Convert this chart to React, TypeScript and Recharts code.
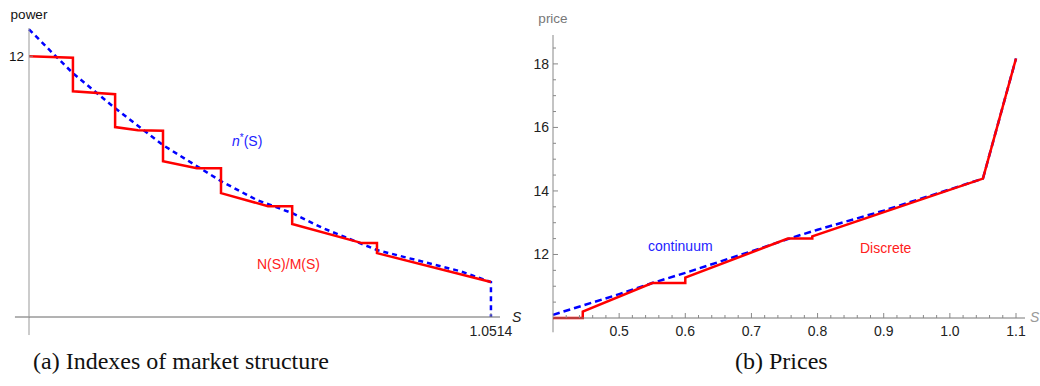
import { LineChart, Line, XAxis, YAxis, ReferenceLine } from 'recharts'

const sansFont = '"Liberation Sans", Arial, sans-serif'
const serifFont = '"Liberation Serif", "Times New Roman", serif'

// (a) indexes of market structure
const discreteS = [0, 0.1, 0.1, 0.196, 0.196, 0.248, 0.305, 0.305, 0.382, 0.437, 0.437, 0.544, 0.599, 0.599, 0.758, 0.792, 0.792, 1.0514]
const discreteIndex = [12.0, 11.93, 10.39, 10.25, 8.74, 8.6, 8.57, 7.17, 6.85, 6.85, 5.7, 5.1, 5.1, 4.28, 3.4, 3.4, 2.94, 1.61]
const continuumS = [0, 0.052, 0.1, 0.196, 0.305, 0.437, 0.519, 0.599, 0.669, 0.792, 0.981, 1.0514, 1.0514]
const continuumIndex = [13.24, 12.18, 11.22, 9.61, 7.91, 6.25, 5.38, 4.78, 4.09, 3.08, 2.11, 1.61, 0]
const indexTicksX = [1.0514]
const indexTicksY = [12]

// (b) prices
const priceDiscreteS = [0.4, 0.445, 0.445, 0.55, 0.6, 0.6, 0.755, 0.792, 0.792, 1.05, 1.1]
const priceDiscrete = [10, 10, 10.2, 11.1, 11.1, 11.27, 12.5, 12.5, 12.57, 14.39, 18.17]
const priceContinuumS = [0.4, 0.5, 0.55, 0.6, 0.7, 0.76, 0.8, 0.9, 1.0, 1.05, 1.1]
const priceContinuum = [10.1, 10.75, 11.1, 11.42, 12.1, 12.52, 12.78, 13.38, 14.05, 14.39, 18.17]
const priceTicksX = [
  0.42, 0.44, 0.46, 0.48, 0.5, 0.52, 0.54, 0.56, 0.58, 0.6, 0.62, 0.64, 0.66, 0.68, 0.7,
  0.72, 0.74, 0.76, 0.78, 0.8, 0.82, 0.84, 0.86, 0.88, 0.9, 0.92, 0.94, 0.96, 0.98, 1.0,
  1.02, 1.04, 1.06, 1.08, 1.1,
]
const priceTicksY = [10.5, 11, 11.5, 12, 12.5, 13, 13.5, 14, 14.5, 15, 15.5, 16, 16.5, 17, 17.5, 18, 18.5]

const toPoints = (xs: number[], ys: number[]) => xs.map((s, i) => ({ s, v: ys[i] }))

const axisColor = '#888'

function IndexXTick({ x, y, payload }: any) {
  return (
    <g>
      <line x1={x} y1={y} x2={x} y2={y - 4} stroke={axisColor} />
      <text x={x} y={y + 19} textAnchor="middle" fontSize={14} fill="#222" fontFamily={sansFont}>
        {payload.value}
      </text>
    </g>
  )
}

function IndexYTick({ x, y, payload }: any) {
  return (
    <g>
      <line x1={x} y1={y} x2={x + 4} y2={y} stroke={axisColor} />
      <text x={x - 5} y={y + 5} textAnchor="end" fontSize={13.5} fill="#111" fontFamily={sansFont}>
        {payload.value}
      </text>
    </g>
  )
}

function PriceXTick({ x, y, payload }: any) {
  const v = payload.value as number
  const major = Math.abs(v * 10 - Math.round(v * 10)) < 1e-6
  return (
    <g>
      <line x1={x} y1={y} x2={x} y2={y - (major ? 5 : 3)} stroke={axisColor} />
      {major && (
        <text x={x} y={y + 17.5} textAnchor="middle" fontSize={14} fill="#222" fontFamily={sansFont}>
          {v.toFixed(1)}
        </text>
      )}
    </g>
  )
}

function PriceYTick({ x, y, payload }: any) {
  const v = payload.value as number
  const major = Math.abs(v / 2 - Math.round(v / 2)) < 1e-6
  return (
    <g>
      <line x1={x} y1={y} x2={x + (major ? 5 : 3)} y2={y} stroke={axisColor} />
      {major && (
        <text x={x - 4} y={y + 5} textAnchor="end" fontSize={14} fill="#222" fontFamily={sansFont}>
          {v}
        </text>
      )}
    </g>
  )
}

const label = (left: number, top: number, color: string, extra: any = {}) => ({
  position: 'absolute' as const,
  left,
  top,
  color,
  fontSize: 14,
  lineHeight: '14px',
  fontFamily: sansFont,
  whiteSpace: 'nowrap' as const,
  ...extra,
})

export default function App() {
  return (
    <div style={{ position: 'absolute', left: 0, top: 0, width: 1040, height: 386, background: '#fff', overflow: 'hidden' }}>
      <div style={{ position: 'absolute', left: 0, top: 0 }}>
        <LineChart width={540} height={345} margin={{ top: 28, right: 40, bottom: 8, left: 9 }}>
          <XAxis
            type="number"
            dataKey="s"
            domain={[0, 1.072]}
            ticks={indexTicksX}
            interval={0}
            height={20}
            tickSize={0}
            tickMargin={0}
            tickLine={false}
            tick={<IndexXTick />}
            axisLine={{ stroke: '#666' }}
          />
          <YAxis
            type="number"
            domain={[0, 13.3]}
            ticks={indexTicksY}
            interval={0}
            width={20}
            tickSize={0}
            tickMargin={0}
            tickLine={false}
            tick={<IndexYTick />}
            axisLine={{ stroke: '#999' }}
          />
          <ReferenceLine segment={[{ x: -0.032, y: 0 }, { x: 0, y: 0 }]} stroke="#666" ifOverflow="visible" />
          <ReferenceLine segment={[{ x: 0, y: 0 }, { x: 0, y: -0.83 }]} stroke="#999" ifOverflow="visible" />
          <Line
            data={toPoints(continuumS, continuumIndex)}
            dataKey="v"
            type="linear"
            stroke="#0000ff"
            strokeWidth={2.5}
            strokeDasharray="5 4"
            dot={false}
            isAnimationActive={false}
          />
          <Line
            data={toPoints(discreteS, discreteIndex)}
            dataKey="v"
            type="linear"
            stroke="#ff0000"
            strokeWidth={2.5}
            dot={false}
            isAnimationActive={false}
          />
        </LineChart>
      </div>

      <div style={{ position: 'absolute', left: 520, top: 0 }}>
        <LineChart width={520} height={345} margin={{ top: 35, right: 15, bottom: 7, left: 8 }}>
          <XAxis
            type="number"
            dataKey="s"
            domain={[0.4, 1.1136]}
            ticks={priceTicksX}
            interval={0}
            height={20}
            tickSize={0}
            tickMargin={0}
            tickLine={false}
            tick={<PriceXTick />}
            axisLine={{ stroke: '#777' }}
          />
          <YAxis
            type="number"
            domain={[10, 18.91]}
            ticks={priceTicksY}
            interval={0}
            width={25}
            tickSize={0}
            tickMargin={0}
            tickLine={false}
            tick={<PriceYTick />}
            axisLine={{ stroke: '#888' }}
          />
          <ReferenceLine segment={[{ x: 0.4, y: 10 }, { x: 0.4, y: 9.55 }]} stroke="#888" ifOverflow="visible" />
          <Line
            data={toPoints(priceContinuumS, priceContinuum)}
            dataKey="v"
            type="linear"
            stroke="#0000ff"
            strokeWidth={2.5}
            strokeDasharray="7 4"
            dot={false}
            isAnimationActive={false}
          />
          <Line
            data={toPoints(priceDiscreteS, priceDiscrete)}
            dataKey="v"
            type="linear"
            stroke="#ff0000"
            strokeWidth={2.5}
            dot={false}
            isAnimationActive={false}
          />
        </LineChart>
      </div>

      {/* axis titles */}
      <div style={label(29, 8, '#111', { fontSize: 13.5, transform: 'translateX(-50%)' })}>power</div>
      <div style={label(553, 12, '#777', { fontSize: 13.5, transform: 'translateX(-50%)' })}>price</div>
      <div style={label(512, 310, '#222', { fontStyle: 'italic' })}>S</div>
      <div style={label(1030, 310, '#999', { fontStyle: 'italic' })}>S</div>

      {/* series labels */}
      <div style={label(232, 134, '#2222ff')}>
        <i>n</i>
        <sup style={{ fontSize: 10, verticalAlign: 'top', position: 'relative', top: -3 }}>*</sup>
        (S)
      </div>
      <div style={label(257, 257, '#ff2020')}>N(S)/M(S)</div>
      <div style={label(648, 239, '#2222ff')}>continuum</div>
      <div style={label(860, 241, '#ff2020')}>Discrete</div>

      {/* captions */}
      <div style={{ position: 'absolute', left: 33, top: 348, fontFamily: serifFont, fontSize: 24, color: '#111', whiteSpace: 'nowrap' }}>
        (a) Indexes of market structure
      </div>
      <div style={{ position: 'absolute', left: 735, top: 348, fontFamily: serifFont, fontSize: 24, color: '#111', whiteSpace: 'nowrap' }}>
        (b) Prices
      </div>
    </div>
  )
}
